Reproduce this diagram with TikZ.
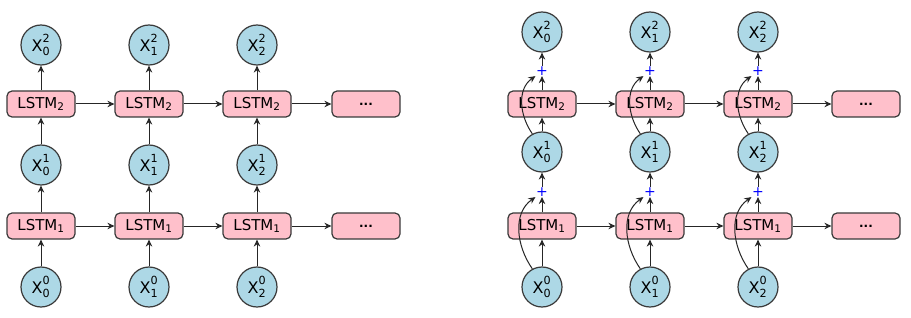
\documentclass[tikz,border=0pt]{standalone}
\usepackage{fontspec}
\setmainfont{DejaVu Sans}
\usetikzlibrary{arrows.meta}
\definecolor{edge}{HTML}{3A3A3A}
\definecolor{circfill}{HTML}{ADD8E6}
\definecolor{boxfill}{HTML}{FFC0CB}
\newcommand{\xv}[2]{$\mathrm{X}^{\mathrm{#1}}_{\mathrm{#2}}$}
\tikzset{
  xnode/.style={circle, draw=edge, fill=circfill, line width=1.2pt, minimum size=40pt, inner sep=0pt, font=\fontsize{16}{18}\selectfont},
  lstm/.style={rounded corners=5pt, draw=edge, fill=boxfill, line width=1.2pt, minimum width=68pt, minimum height=26pt, inner sep=0pt, font=\fontsize{15}{17}\selectfont},
  dots/.style={lstm, font=\fontsize{12}{14}\bfseries},
  plusnode/.style={inner sep=0.5pt, text=blue, font=\fontsize{14}{14}\selectfont},
  arr/.style={draw=black!85, line width=1pt, -{Stealth[length=7pt,width=6.5pt]}}
}
\begin{document}
\begin{tikzpicture}[x=1pt,y=-1pt]
\useasboundingbox (0,0) rectangle (911,318);
% ---------- left diagram ----------
\foreach \i/\x in {0/41,1/149,2/257}{
  \node[xnode] (a0\i) at (\x,287) {\xv{0}{\i}};
  \node[lstm]  (aL1\i) at (\x,226) {LSTM$_{\mathrm{1}}$};
  \node[xnode] (a1\i) at (\x,165) {\xv{1}{\i}};
  \node[lstm]  (aL2\i) at (\x,104) {LSTM$_{\mathrm{2}}$};
  \node[xnode] (a2\i) at (\x,45) {\xv{2}{\i}};
  \draw[arr] (a0\i) -- (aL1\i);
  \draw[arr] (aL1\i) -- (a1\i);
  \draw[arr] (a1\i) -- (aL2\i);
  \draw[arr] (aL2\i) -- (a2\i);
}
\node[dots] (aD1) at (366,226) {...};
\node[dots] (aD2) at (366,104) {...};
\draw[arr] (aL10) -- (aL11);
\draw[arr] (aL11) -- (aL12);
\draw[arr] (aL12) -- (aD1);
\draw[arr] (aL20) -- (aL21);
\draw[arr] (aL21) -- (aL22);
\draw[arr] (aL22) -- (aD2);
% ---------- right diagram ----------
\foreach \i/\x in {0/542,1/650,2/758}{
  \node[xnode] (b0\i) at (\x,287) {\xv{0}{\i}};
  \node[lstm]  (bL1\i) at (\x,226) {LSTM$_{\mathrm{1}}$};
  \node[plusnode] (bp1\i) at (\x,192) {+};
  \node[xnode] (b1\i) at (\x,152) {\xv{1}{\i}};
  \node[lstm]  (bL2\i) at (\x,104) {LSTM$_{\mathrm{2}}$};
  \node[plusnode] (bp2\i) at (\x,71) {+};
  \node[xnode] (b2\i) at (\x,32) {\xv{2}{\i}};
  \draw[arr] (b0\i) -- (bL1\i);
  \draw[arr] (bL1\i) -- (bp1\i);
  \draw[arr] (bp1\i) -- (b1\i);
  \draw[arr] (b1\i) -- (bL2\i);
  \draw[arr] (bL2\i) -- (bp2\i);
  \draw[arr] (bp2\i) -- (b2\i);
  \draw[arr] (b0\i.118) to[out=125, in=215] (bp1\i.south west);
  \draw[arr] (b1\i.118) to[out=125, in=215] (bp2\i.south west);
}
\node[dots] (bD1) at (866,226) {...};
\node[dots] (bD2) at (866,104) {...};
\draw[arr] (bL10) -- (bL11);
\draw[arr] (bL11) -- (bL12);
\draw[arr] (bL12) -- (bD1);
\draw[arr] (bL20) -- (bL21);
\draw[arr] (bL21) -- (bL22);
\draw[arr] (bL22) -- (bD2);
\end{tikzpicture}
\end{document}
